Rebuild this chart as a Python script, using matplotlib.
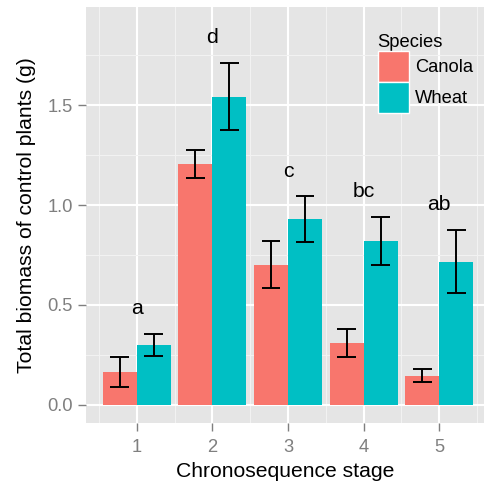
import matplotlib
matplotlib.use("Agg")
import matplotlib.pyplot as plt
from matplotlib.patches import Patch
import numpy as np

plt.rcParams['font.family'] = ['Liberation Sans', 'DejaVu Sans']

stages = [1, 2, 3, 4, 5]
species = ["Canola", "Wheat"]
canola_mean = [0.163, 1.205, 0.699, 0.308, 0.143]
canola_lo = [0.089, 1.137, 0.584, 0.238, 0.114]
canola_hi = [0.238, 1.276, 0.821, 0.377, 0.176]
wheat_mean = [0.298, 1.541, 0.930, 0.820, 0.714]
wheat_lo = [0.243, 1.376, 0.813, 0.699, 0.557]
wheat_hi = [0.355, 1.712, 1.044, 0.940, 0.876]
letters = ["a", "d", "c", "bc", "ab"]
letter_y = [0.479, 1.839, 1.167, 1.070, 1.003]
y_ticks = [0.0, 0.5, 1.0, 1.5]
y_ticklabels = ["0.0", "0.5", "1.0", "1.5"]

colors = ["#F8766D", "#00BFC4"]
W, H = 485, 482
fig = plt.figure(figsize=(W / 100, H / 100), dpi=100)
ax = fig.add_axes([86 / W, 1 - 423 / H, (485 - 86) / W, (423 - 6.7) / H])
ax.set_facecolor("#E5E5E5")

x = np.array(stages, dtype=float)
bw = 0.45
off = 0.225
series = [(canola_mean, canola_lo, canola_hi), (wheat_mean, wheat_lo, wheat_hi)]
for i, (m, lo, hi) in enumerate(series):
    xs = x + (-off if i == 0 else off)
    ax.bar(xs, m, width=bw, color=colors[i], zorder=3, linewidth=0)
    m = np.array(m); lo = np.array(lo); hi = np.array(hi)
    ax.errorbar(xs, m, yerr=[m - lo, hi - m], fmt='none', ecolor='black',
                elinewidth=1.4, capsize=0, zorder=4)
    for xx, l, h in zip(xs, lo, hi):
        ax.plot([xx - 0.125, xx + 0.125], [l, l], color='black', lw=1.4, zorder=4, solid_capstyle='butt')
        ax.plot([xx - 0.125, xx + 0.125], [h, h], color='black', lw=1.4, zorder=4, solid_capstyle='butt')

for xx, t, yy in zip(x, letters, letter_y):
    ax.text(xx, yy, t, ha='center', va='center', fontsize=15.2, color='black', zorder=5)

ax.set_xlim(0.330, 5.604)
ax.set_ylim(-0.0927, 1.994)
ax.set_xticks(stages)
ax.set_xticklabels([str(s) for s in stages])
ax.set_yticks(y_ticks)
ax.set_yticklabels(y_ticklabels)
ax.set_xticks([s - 0.5 for s in stages] + [5.5], minor=True)
ax.set_yticks([0.25, 0.75, 1.25, 1.75], minor=True)
ax.grid(which='major', color='white', linewidth=1.5, zorder=1)
ax.grid(which='minor', color='#F2F2F2', linewidth=0.8, zorder=1)
ax.set_axisbelow(True)
for s in ax.spines.values():
    s.set_visible(False)
ax.tick_params(which='major', length=5.5, width=1.0, color='#7F7F7F',
               labelcolor='#7F7F7F', labelsize=13.2, pad=4)
ax.tick_params(axis='x', which='major', pad=6)
ax.tick_params(which='minor', length=0)

ax.set_xlabel("Chronosequence stage", fontsize=15.2, labelpad=4)
ax.set_ylabel("Total biomass of control plants (g)", fontsize=15.2, labelpad=8)

handles = [Patch(facecolor=colors[i], edgecolor='white', linewidth=1, label=species[i]) for i in range(2)]
leg = ax.legend(handles=handles, title="Species", loc='upper left',
                bbox_to_anchor=(0.731, 0.934), frameon=False, fontsize=13.2,
                title_fontsize=13.2, handlelength=1.69, handleheight=2.22,
                labelspacing=0.0, handletextpad=0.35, borderpad=0, borderaxespad=0,
                alignment='left')

fig.savefig("out.png", dpi=100)
